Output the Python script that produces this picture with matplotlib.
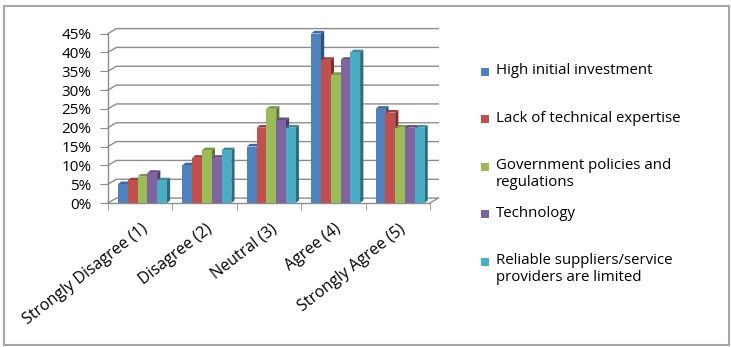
import matplotlib.pyplot as plt
import numpy as np
from matplotlib.colors import to_rgb
from matplotlib.patches import Polygon, Rectangle

plt.rcParams['font.family'] = ['Open Sans', 'DejaVu Sans']

categories = ['Strongly Disagree (1)', 'Disagree (2)', 'Neutral (3)', 'Agree (4)', 'Strongly Agree (5)']
series = ['High initial investment', 'Lack of technical expertise',
          'Government policies and\nregulations', 'Technology',
          'Reliable suppliers/service\nproviders are limited']
high_invest = [5, 10, 15, 45, 25]
lack_expertise = [6, 12, 20, 38, 24]
gov_policies = [7, 14, 25, 34, 20]
technology = [8, 12, 22, 38, 20]
suppliers = [6, 14, 20, 40, 20]
colors = ['#4F81BD', '#C0504D', '#9BBB59', '#8064A2', '#4BACC6']
yticks = list(range(0, 46, 5))

data = [high_invest, lack_expertise, gov_policies, technology, suppliers]
grid_c = '#8c8c8c'

W, H = 731, 347
fig = plt.figure(figsize=(W / 100, H / 100), dpi=100)
ax = fig.add_axes([108 / W, 1 - 203 / H, 322 / W, 169.5 / H])
ax.set_facecolor('none')
ax.set_xlim(0, len(categories))
ax.set_ylim(0, 45)

# depth of back wall and of the bars (data units)
wdx, wdy = 0.13, 1.3
bdx, bdy = 0.05, 0.7
bw = 0.152
off = 0.155

# back wall gridlines + floor
for t in yticks:
    ax.plot([0, wdx, len(categories) + wdx], [t, t + wdy, t + wdy],
            color=grid_c, lw=1, zorder=1, clip_on=False)
ax.plot([len(categories), len(categories) + wdx], [0, wdy], color=grid_c, lw=1, zorder=1, clip_on=False)

# 3-D looking columns
for j, vals in enumerate(data):
    base = np.array(to_rgb(colors[j]))
    side = base * 0.62
    top = base * 0.8
    xs = np.arange(len(categories)) + off + j * bw
    for x, v in zip(xs, vals):
        ax.add_patch(Polygon([(x + bw, 0), (x + bw + bdx, bdy), (x + bw + bdx, v + bdy), (x + bw, v)],
                             closed=True, facecolor=side, edgecolor='none', zorder=3 + j, clip_on=False))
        ax.add_patch(Polygon([(x, v), (x + bdx, v + bdy), (x + bw + bdx, v + bdy), (x + bw, v)],
                             closed=True, facecolor=top, edgecolor='none', zorder=3 + j, clip_on=False))
    ax.bar(xs, vals, width=bw, align='edge', color=colors[j], edgecolor='none', zorder=3 + j, clip_on=False)

for s in ['top', 'right']:
    ax.spines[s].set_visible(False)
for s in ['left', 'bottom']:
    ax.spines[s].set_color(grid_c)
    ax.spines[s].set_linewidth(1)
    ax.spines[s].set_zorder(2)

ax.set_yticks(yticks)
ax.set_yticklabels([f'{t}%' for t in yticks])
ax.tick_params(axis='y', length=6, color=grid_c, pad=6, labelsize=11)

ax.set_xticks(np.arange(len(categories)) + 0.5 + 0.02)
ax.set_xticklabels(categories, rotation=38, ha='right', va='top', rotation_mode='anchor')
ax.tick_params(axis='x', which='major', length=0, pad=13, labelsize=11.5)
ax.set_xticks(np.arange(len(categories) + 1), minor=True)
ax.tick_params(axis='x', which='minor', length=5, color=grid_c)

# legend drawn by hand to mimic Excel spacing
for i, (lab, c) in enumerate(zip(series, colors)):
    yc = 71.7 + i * 47.5
    fig.patches.append(Rectangle((481 / W, 1 - (yc + 4) / H), 8 / W, 8 / H,
                                 transform=fig.transFigure, facecolor=c, edgecolor='none'))
    fig.text(496 / W, 1 - (yc - 8.5) / H, lab, fontsize=10.8, va='top', ha='left', linespacing=1.2)

# chart border
fig.patches.append(Rectangle((4 / W, 1 - 345 / H), 725 / W, 339 / H, transform=fig.transFigure,
                             facecolor='none', edgecolor='#a6a6a6', lw=1.5))

fig.savefig('out.png', dpi=100)
